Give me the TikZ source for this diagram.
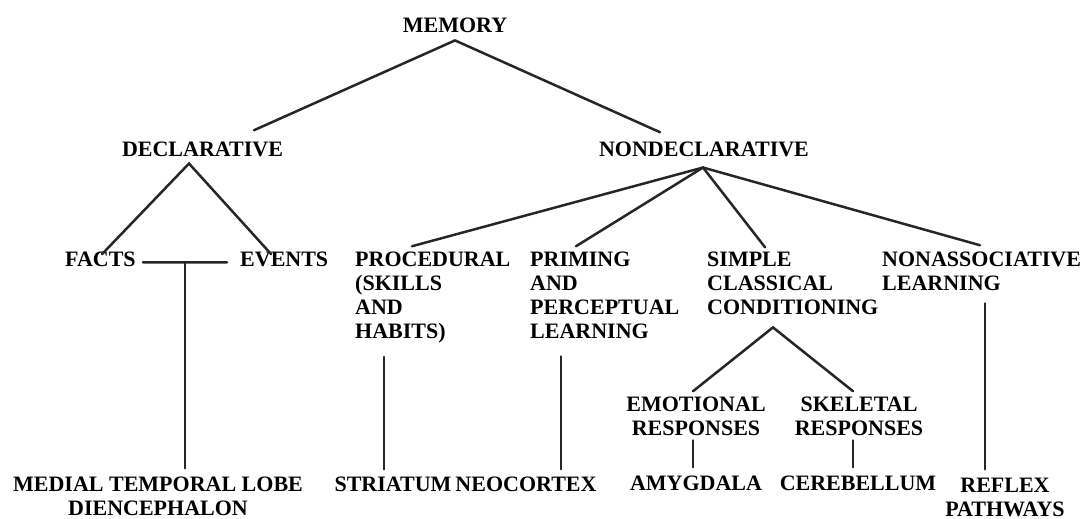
\documentclass[tikz,border=0pt]{standalone}
\usepackage{fontspec}
\setmainfont{Liberation Serif}
\usetikzlibrary{calc}
\tikzset{
  lbl/.style={font=\fontsize{22}{24}\selectfont\bfseries, inner sep=0pt, align=left},
  lblc/.style={lbl, align=center},
  link/.style={line width=2.5pt, draw=black!85, line cap=round},
}
\begin{document}
\begin{tikzpicture}[x=1pt, y=-1pt]
    \useasboundingbox (0,0) rectangle (1089,519);

    % Draw the top levels
    \node[lbl, anchor=base] (memory) at (455,33) {MEMORY};
    \node[lbl, anchor=base] (decl) at (202.5,156) {DECLARATIVE};
    \node[lbl, anchor=base] (nondecl) at (704,156) {NONDECLARATIVE};

    % Draw the third row (base = last line)
    \node[lbl, anchor=base west] (facts) at (65,266) {FACTS};
    \node[lbl, anchor=base west] (events) at (240,266) {EVENTS};
    \node[lbl, anchor=base west] (proc) at (355,338) {PROCEDURAL\\(SKILLS\\AND\\HABITS)};
    \node[lbl, anchor=base west] (prim) at (530,338) {PRIMING\\AND\\PERCEPTUAL\\LEARNING};
    \node[lbl, anchor=base west] (simple) at (707,314) {SIMPLE\\CLASSICAL\\CONDITIONING};
    \node[lbl, anchor=base west] (nonassoc) at (882,290) {NONASSOCIATIVE\\LEARNING};

    % Draw the responses
    \node[lblc, anchor=base] (emot) at (696,435) {EMOTIONAL\\RESPONSES};
    \node[lblc, anchor=base] (skel) at (859,435) {SKELETAL\\RESPONSES};

    % Draw the bottom row (brain structures)
    \node[lblc, anchor=base] (mtl) at (158,515) {MEDIAL TEMPORAL LOBE\\DIENCEPHALON};
    \node[lblc, anchor=base] (striatum) at (393,491) {STRIATUM};
    \node[lblc, anchor=base] (neocortex) at (526,491) {NEOCORTEX};
    \node[lblc, anchor=base] (amyg) at (696,490) {AMYGDALA};
    \node[lblc, anchor=base] (cereb) at (858,490) {CEREBELLUM};
    \node[lblc, anchor=base] (reflex) at (1005,516) {REFLEX\\PATHWAYS};

    % Draw the branches from memory
    \draw[link] ($(memory.south)+(0,7)$) -- ($(decl.north)+(51.5,-11)$);
    \draw[link] ($(memory.south)+(0,7)$) -- ($(nondecl.north)+(-44,-9)$);

    % Draw the declarative branches
    \draw[link] ($(facts.north)+(1.5,3)$) -- ($(decl.south)+(-13.5,7)$) -- ($(events.north)+(-13,3)$);
    \coordinate (fbarL) at ($(facts.east)+(7,3.5)$);
    \coordinate (fbarR) at ($(events.west)+(-13,3.5)$);
    \coordinate (fbar) at ($(fbarL)!0.5!(fbarR)$);
    \draw[link] (fbarL) -- (fbarR);
    \draw[link] (fbar) -- ($(fbar |- mtl.north)+(0,-8)$);

    % Draw the nondeclarative branches
    \foreach \t/\dx/\dy in {proc/57/-5, prim/46/-5, simple/58/-4, nonassoc/98/-6}
        \draw[link] ($(nondecl.south)+(-1,11)$) -- ($(\t.north west)+(\dx,\dy)$);

    % Draw the lines down to the brain structures
    \coordinate (procfoot) at ($(proc.south west)+(29,14)$);
    \coordinate (primfoot) at ($(prim.south west)+(31,18)$);
    \coordinate (nonafoot) at ($(nonassoc.south west)+(103,13)$);
    \draw[link] (procfoot) -- ($(procfoot |- striatum.north)+(0,-7)$);
    \draw[link] (primfoot) -- ($(primfoot |- neocortex.north)+(0,-7)$);
    \draw[link] (nonafoot) -- ($(nonafoot |- reflex.north)+(0,-8)$);

    % Draw the conditioning branches
    \coordinate (sapex) at ($(simple.south west)+(66,13)$);
    \draw[link] ($(emot.north)+(-3,-5)$) -- (sapex) -- ($(skel.north)+(-6,-5)$);
    \draw[link] ($(emot.south)+(-3,5)$) -- ($(emot.south |- amyg.north)+(-3,-8)$);
    \draw[link] ($(skel.south)+(-6,5)$) -- ($(skel.south |- cereb.north)+(-6,-8)$);

\end{tikzpicture}
\end{document}
